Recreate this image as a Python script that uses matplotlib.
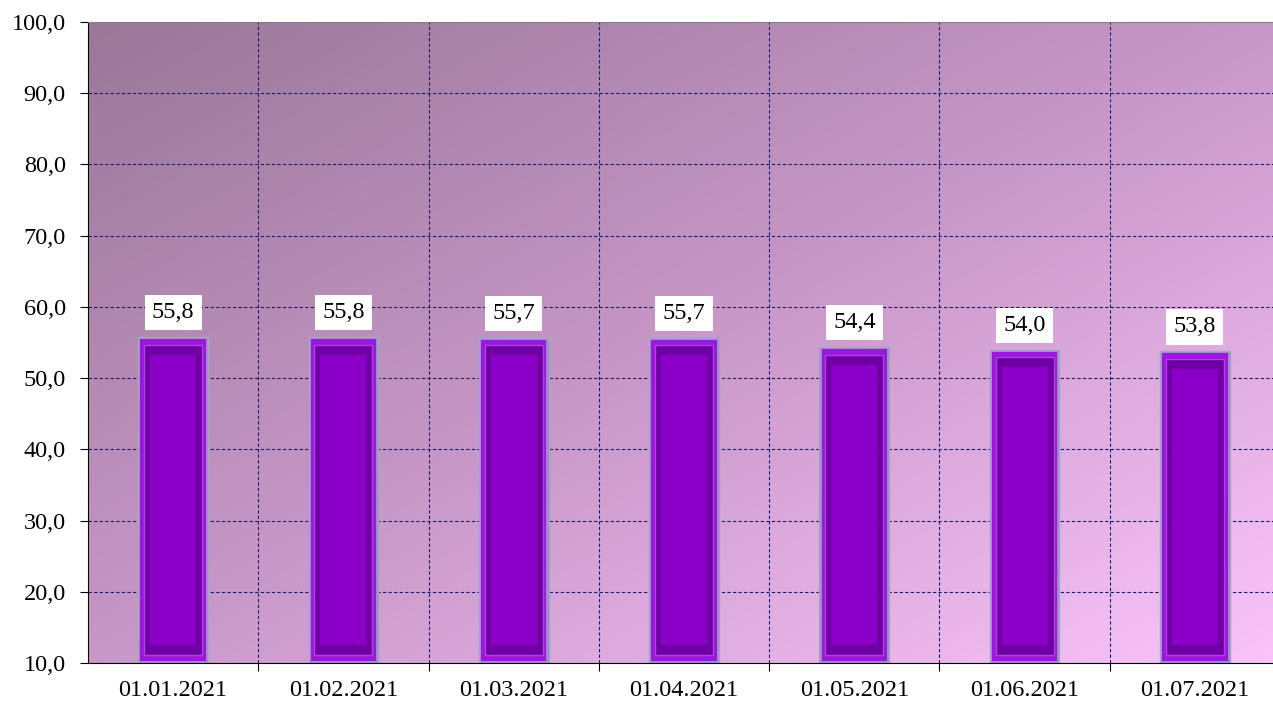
import numpy as np
import matplotlib.pyplot as plt
from matplotlib.colors import LinearSegmentedColormap

dates = ["01.01.2021", "01.02.2021", "01.03.2021", "01.04.2021",
         "01.05.2021", "01.06.2021", "01.07.2021"]
values = [55.8, 55.8, 55.7, 55.7, 54.4, 54.0, 53.8]
y_ticks = [10, 20, 30, 40, 50, 60, 70, 80, 90, 100]

plt.rcParams['font.family'] = ['Liberation Serif', 'DejaVu Serif']

fig = plt.figure(figsize=(12.73, 7.02), dpi=100)
ax = fig.add_axes([88 / 1273, 1 - 663 / 702, (1280 - 88) / 1273, (663 - 22) / 702])

n = len(dates)
x = np.arange(n)
ymin, ymax = 10, 100

# diagonal background gradient, dark top-left -> light bottom-right
gx, gy = np.meshgrid(np.linspace(0, 1, 200), np.linspace(0, 1, 200))
g = (gx + gy) / 2
bg = LinearSegmentedColormap.from_list("bg", ["#9a7898", "#c898c8", "#fac4fa"])
ax.imshow(g, cmap=bg, extent=[-0.5, n - 0.5, ymin, ymax], aspect="auto", zorder=0)

# grid
for xb in np.arange(0.5, n - 0.5, 1):
    ax.axvline(xb, color="#1a1a6e", lw=0.8, ls=(0, (3, 2)), zorder=1)
for yt in y_ticks[1:-1]:
    ax.axhline(yt, color="#1a1a6e", lw=0.8, ls=(0, (3, 2)), zorder=1)

# bars with bevel look
w = 0.41
ax.bar(x, [v - ymin for v in values], width=w, bottom=ymin, color="#9c8cc8",
       edgecolor="#a8a0d0", lw=1, zorder=2)
ax.bar(x, [v - ymin - 0.6 for v in values], width=w - 0.025, bottom=ymin + 0.3,
       color="#9a18dc", edgecolor="none", zorder=3)
ax.bar(x, [v - ymin - 2.2 for v in values], width=w - 0.07, bottom=ymin + 1.1,
       color="#6e00a4", edgecolor="#b040e8", lw=1, zorder=4)
ax.bar(x, [v - ymin - 5 for v in values], width=w - 0.14, bottom=ymin + 2.5,
       color="#8a00c6", edgecolor="none", zorder=5)

for xi, v in zip(x, values):
    ax.text(xi, v + 3.4, f"{v:.1f}".replace(".", ","), ha="center", va="center",
            fontsize=17.5, color="black", zorder=6,
            bbox=dict(boxstyle="square,pad=0.3", fc="white", ec="none"))

ax.set_xlim(-0.5, n - 0.5)
ax.set_ylim(ymin, ymax)
ax.set_yticks(y_ticks)
ax.set_yticklabels([f"{t:.1f}".replace(".", ",") for t in y_ticks], fontsize=17.5)
ax.set_xticks(np.arange(0.5, n - 0.5, 1))
ax.set_xticklabels([])
ax.set_xticks(x, minor=True)
ax.set_xticklabels(dates, minor=True, fontsize=17.5)
ax.tick_params(axis="x", which="minor", length=0, pad=12)
ax.tick_params(axis="x", which="major", length=6, direction="out", color="black")
ax.tick_params(axis="y", length=6, direction="out", color="black", pad=10)

ax.spines["left"].set_color("black")
ax.spines["bottom"].set_color("black")
ax.spines["top"].set_color("#808080")
ax.spines["right"].set_visible(False)

fig.savefig("out.png", dpi=100)
